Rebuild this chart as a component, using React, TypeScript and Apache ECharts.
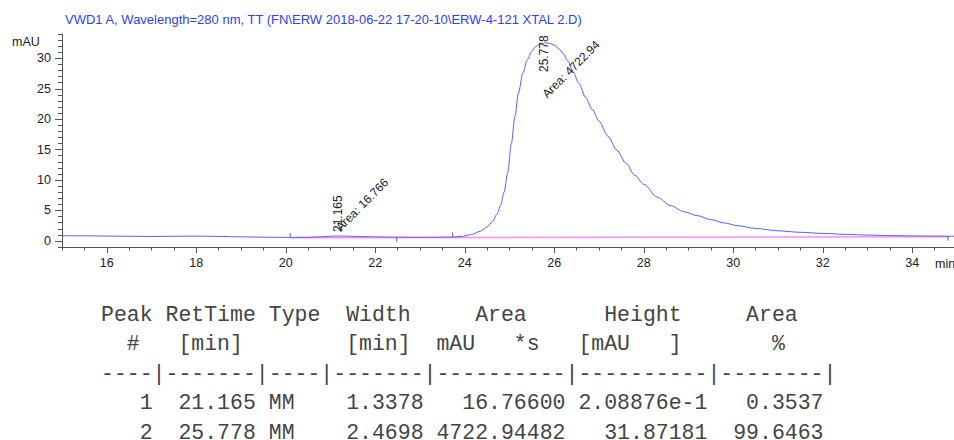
import React, { useEffect, useRef } from 'react';
import * as echarts from 'echarts';

// ---------- texts ----------
const TITLE = 'VWD1 A, Wavelength=280 nm, TT (FN\\ERW 2018-06-22 17-20-10\\ERW-4-121 XTAL 2.D)';
const Y_UNIT = 'mAU';
const X_UNIT = 'min';

// ---------- axes ----------
const X_MIN = 15;
const X_MAX = 35;
const X_MINOR_STEP = 0.5;
const X_LABEL_MIN = 16;
const X_LABEL_MAX = 34;
const X_LABEL_STEP = 2;
const Y_MIN = -1;
const Y_MAX = 34;
const Y_MINOR_STEP = 1;
const Y_LABEL_MIN = 0;
const Y_LABEL_MAX = 30;
const Y_LABEL_STEP = 5;

// ---------- signal ----------
const signalTimes = [
  15.0, 15.5, 16.0, 16.5, 17.0, 17.5, 18.0, 18.5, 19.0, 19.5, 20.0, 20.4, 20.8, 21.0, 21.165, 21.35,
  21.7, 22.1, 22.5, 23.0, 23.4, 23.7, 23.95, 24.15, 24.35, 24.5, 24.62, 24.72, 24.8, 24.88, 24.96,
  25.04, 25.12, 25.2, 25.3, 25.4, 25.5, 25.6, 25.7, 25.8, 25.9, 26.0, 26.1, 26.2, 26.3, 26.42, 26.55,
  26.7, 26.85, 27.0, 27.2, 27.4, 27.6, 27.8, 28.0, 28.3, 28.6, 28.9, 29.2, 29.5, 29.8, 30.1, 30.5,
  31.0, 31.5, 32.0, 32.5, 33.0, 33.5, 34.0, 34.5, 35.0,
];
const signalValues = [
  0.86, 0.84, 0.8, 0.76, 0.73, 0.76, 0.79, 0.74, 0.67, 0.61, 0.58, 0.6, 0.68, 0.76, 0.81, 0.78,
  0.71, 0.66, 0.62, 0.6, 0.61, 0.64, 0.75, 1.05, 1.6, 2.3, 3.2, 4.4, 5.8, 8.0, 11.2,
  15.9, 20.4, 24.3, 27.6, 29.8, 31.2, 32.0, 32.4, 32.55, 32.45, 32.2, 31.6, 30.8, 29.6, 27.8, 25.9,
  23.6, 21.6, 19.7, 17.2, 14.9, 12.8, 10.8, 9.3, 7.2, 5.8, 4.8, 4.15, 3.5, 2.95, 2.5, 2.05,
  1.66, 1.42, 1.24, 1.08, 0.96, 0.88, 0.83, 0.79, 0.77,
];

// integration baseline
const baselineTimes = [20.1, 34.8];
const baselineValues = [0.52, 0.68];

// integration event marks (-1 = above trace, 1 = below trace)
const eventTimes = [20.1, 22.48, 23.73, 34.8];
const eventLevels = [0.58, 0.6, 0.65, 0.77];
const eventDirs = [-1, 1, -1, 1];

// ---------- peak table ----------
const peakNumbers = [1, 2];
const peakRetTimes = [21.165, 25.778];
const peakTypes = ['MM', 'MM'];
const peakWidths = [1.3378, 2.4698];
const peakAreas = [16.766, 4722.94482];
const peakHeights = [0.208876, 31.87181];
const peakAreaPct = [0.3537, 99.6463];
const peakApex = [0.81, 32.5];

const TABLE_HEAD = [
  'Peak RetTime Type  Width     Area      Height     Area',
  '  #   [min]        [min]  mAU   *s   [mAU   ]       %',
  '----|-------|----|-------|----------|----------|--------|',
];

function fmtHeight(h: number) {
  return h < 1 ? h.toExponential(5) : h.toFixed(5);
}

const tableRows = peakNumbers.map((n, i) =>
  [
    String(n).padStart(4),
    peakRetTimes[i].toFixed(3).padStart(7),
    peakTypes[i].padEnd(4),
    peakWidths[i].toFixed(4).padStart(7),
    peakAreas[i].toFixed(5).padStart(10),
    fmtHeight(peakHeights[i]).padStart(10),
    peakAreaPct[i].toFixed(4).padStart(8),
  ].join(' ')
);
const tableLines = [...TABLE_HEAD, ...tableRows];

const SANS = "'Liberation Sans', Arial, Helvetica, sans-serif";
const MONO = "'Liberation Mono', 'Courier New', monospace";
const AXIS_COLOR = '#555';
const LABEL_COLOR = '#222';

export default function App() {
  const ref = useRef<HTMLDivElement>(null);
  useEffect(() => {
    document.body.style.margin = '0';
    const chart = echarts.init(ref.current!, null, { renderer: 'svg' });

    const gridTop = 34;
    const plotLeft = 62;
    const pxPerMin = 44.75;
    const pxPerUnit = 6.086;

    const option: any = {
      animation: false,
      backgroundColor: '#fff',
      grid: [
        { left: plotLeft, top: gridTop, width: pxPerMin * (X_MAX - X_MIN), height: pxPerUnit * (Y_MAX - Y_MIN), outerBoundsMode: 'none', containLabel: false },
        { left: plotLeft + pxPerMin * (X_LABEL_MIN - X_MIN), top: gridTop, width: pxPerMin * (X_LABEL_MAX - X_LABEL_MIN), height: pxPerUnit * (Y_MAX - Y_MIN), outerBoundsMode: 'none', containLabel: false },
        { left: plotLeft, top: gridTop + pxPerUnit * (Y_MAX - Y_LABEL_MAX), width: pxPerMin * (X_MAX - X_MIN), height: pxPerUnit * (Y_LABEL_MAX - Y_LABEL_MIN), outerBoundsMode: 'none', containLabel: false },
      ],
      xAxis: [
        {
          type: 'value', gridIndex: 0, min: X_MIN, max: X_MAX, interval: X_MINOR_STEP,
          axisLine: { show: true, onZero: false, lineStyle: { color: AXIS_COLOR, width: 1 } },
          axisTick: { show: true, length: 3.5, lineStyle: { color: AXIS_COLOR } },
          axisLabel: { show: false }, splitLine: { show: false },
        },
        {
          type: 'value', gridIndex: 1, min: X_LABEL_MIN, max: X_LABEL_MAX, interval: X_LABEL_STEP,
          axisLine: { show: false, onZero: false },
          axisTick: { show: true, length: 6, lineStyle: { color: AXIS_COLOR } },
          axisLabel: { show: true, margin: 9, color: LABEL_COLOR, fontSize: 12.5, fontFamily: SANS },
          splitLine: { show: false },
        },
        { type: 'value', gridIndex: 2, min: X_MIN, max: X_MAX, show: false },
      ],
      yAxis: [
        {
          type: 'value', gridIndex: 0, min: Y_MIN, max: Y_MAX, interval: Y_MINOR_STEP,
          axisLine: { show: true, onZero: false, lineStyle: { color: AXIS_COLOR, width: 1 } },
          axisTick: { show: true, length: 4, lineStyle: { color: AXIS_COLOR } },
          axisLabel: { show: false }, splitLine: { show: false },
        },
        { type: 'value', gridIndex: 1, min: Y_MIN, max: Y_MAX, show: false },
        {
          type: 'value', gridIndex: 2, min: Y_LABEL_MIN, max: Y_LABEL_MAX, interval: Y_LABEL_STEP,
          axisLine: { show: false, onZero: false },
          axisTick: { show: true, length: 7, lineStyle: { color: AXIS_COLOR } },
          axisLabel: { show: true, margin: 11, color: LABEL_COLOR, fontSize: 12.5, fontFamily: SANS },
          splitLine: { show: false },
        },
      ],
      series: [
        {
          type: 'line', xAxisIndex: 0, yAxisIndex: 0,
          data: baselineTimes.map((t, i) => [t, baselineValues[i]]),
          showSymbol: false, symbol: 'none',
          lineStyle: { color: '#ff8cff', width: 1.4 },
          z: 2,
        },
        {
          type: 'line', xAxisIndex: 0, yAxisIndex: 0,
          data: signalTimes.map((t, i) => [t, signalValues[i]]),
          showSymbol: false, symbol: 'none', smooth: 0.3, smoothMonotone: 'x',
          lineStyle: { color: '#5c5cff', width: 1 },
          z: 3,
        },
        {
          type: 'custom', xAxisIndex: 0, yAxisIndex: 0,
          data: eventTimes.map((t, i) => [t, eventLevels[i], eventDirs[i]]),
          clip: false,
          renderItem: (params: any, api: any) => {
            const p = api.coord([api.value(0), api.value(1)]);
            const d = api.value(2);
            return {
              type: 'line',
              shape: { x1: p[0], y1: p[1], x2: p[0], y2: p[1] + d * 4.5 },
              style: { stroke: '#666', lineWidth: 1 },
            };
          },
          z: 4,
        },
        {
          type: 'custom', xAxisIndex: 0, yAxisIndex: 0,
          data: peakRetTimes.map((t, i) => [t, peakApex[i], peakAreas[i]]),
          clip: false,
          renderItem: (params: any, api: any) => {
            const t = api.value(0);
            const area = api.value(2);
            const p = api.coord([t, api.value(1)]);
            const top = params.coordSys.y;
            const rtY = Math.max(p[1] - 4, top + 38);
            const areaY = Math.max(p[1] - 7, top + 62);
            const areaText = 'Area: ' + String(Number(area.toPrecision(6)));
            return {
              type: 'group',
              children: [
                {
                  type: 'text', x: p[0], y: rtY, rotation: Math.PI / 2,
                  style: { text: t.toFixed(3), font: `12px ${SANS}`, fill: LABEL_COLOR, align: 'left', verticalAlign: 'middle' },
                },
                {
                  type: 'text', x: p[0], y: areaY, rotation: Math.PI / 4,
                  style: { text: areaText, font: `12px ${SANS}`, fill: LABEL_COLOR, align: 'left', verticalAlign: 'middle' },
                },
              ],
            };
          },
          z: 5,
        },
      ],
      graphic: [
        { type: 'text', x: 65, y: 19, style: { text: TITLE, font: `13px ${SANS}`, fill: '#3040f0', align: 'left', verticalAlign: 'middle' } },
        { type: 'text', x: 12, y: 42, style: { text: Y_UNIT, font: `12.5px ${SANS}`, fill: LABEL_COLOR, align: 'left', verticalAlign: 'middle' } },
        { type: 'text', x: 935, y: 264, style: { text: X_UNIT, font: `12.5px ${SANS}`, fill: LABEL_COLOR, align: 'left', verticalAlign: 'middle' } },
        ...tableLines.map((line, i) => ({
          type: 'text', x: 101, y: 314.5 + i * 29.5,
          style: { text: line, font: `21.5px ${MONO}`, fill: '#444', align: 'left', verticalAlign: 'middle' },
        })),
      ],
    };
    chart.setOption(option);
    return () => chart.dispose();
  }, []);
  return <div ref={ref} style={{ width: 954, height: 440 }} />;
}
